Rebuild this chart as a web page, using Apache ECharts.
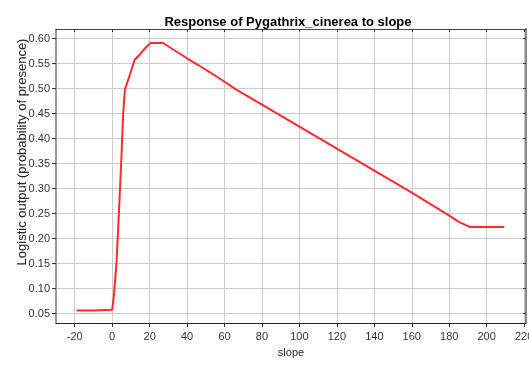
<!DOCTYPE html>
<html>
<head>
<meta charset="utf-8">
<script src="https://cdn.jsdelivr.net/npm/echarts@6/dist/echarts.min.js"></script>
<style>
html,body{margin:0;padding:0;background:#fff;}
#chart{width:529px;height:366px;}
</style>
</head>
<body>
<div id="chart"></div>
<script>
var titleText = "Response of Pygathrix_cinerea to slope";
var xName = "slope";
var yName = "Logistic output (probability of presence)";
var xTicks = [-20, 0, 20, 40, 60, 80, 100, 120, 140, 160, 180, 200, 220];
var yTicks = [0.05, 0.10, 0.15, 0.20, 0.25, 0.30, 0.35, 0.40, 0.45, 0.50, 0.55, 0.60];
var slopeX = [-19, -10, 0, 0.9, 2.3, 3.6, 4.8, 5.9, 6.8, 9.5, 12.1, 14.5, 16.5, 18.5, 20.5, 27.2, 33, 39.7, 46, 52, 59, 66.3, 80, 100, 120, 140, 160, 180, 185.4, 190.8, 200, 209.4];
var responseY = [0.0566, 0.0566, 0.058, 0.085, 0.151, 0.251, 0.351, 0.451, 0.498, 0.528, 0.558, 0.567, 0.576, 0.584, 0.591, 0.591, 0.577, 0.561, 0.547, 0.533, 0.516, 0.498, 0.468, 0.424, 0.380, 0.336, 0.292, 0.246, 0.233, 0.2234, 0.2234, 0.2234];

var pts = slopeX.map(function (x, i) { return [x, responseY[i]]; });
var font = "'Liberation Sans', Arial, sans-serif";
var chart = echarts.init(document.getElementById('chart'), null, {renderer: 'canvas'});
chart.setOption({
  animation: false,
  backgroundColor: '#ffffff',
  title: {
    text: titleText, left: 283, top: 11, textAlign: 'center',
    textStyle: {fontFamily: font, fontSize: 13, fontWeight: 'bold', color: '#000'}
  },
  grid: {left: 56, top: 29, right: 3, bottom: 43, show: false, outerBoundsMode: 'none', containLabel: false},
  xAxis: [{
    type: 'value', min: -30, max: 221, position: 'bottom',
    name: xName, nameLocation: 'middle', nameGap: 24,
    nameTextStyle: {fontFamily: font, fontSize: 11, color: '#222'},
    axisLine: {show: true, onZero: false, lineStyle: {color: '#222', width: 1}},
    axisTick: {show: true, length: 4, customValues: xTicks, lineStyle: {color: '#333'}},
    axisLabel: {customValues: xTicks, fontFamily: font, fontSize: 11, color: '#333', margin: 8, hideOverlap: false},
    splitLine: {show: true, lineStyle: {color: '#cccccc', width: 1}}
  }, {
    type: 'value', min: -30, max: 221, position: 'top',
    axisLine: {show: true, onZero: false, lineStyle: {color: '#444', width: 1}},
    axisTick: {show: true, inside: true, length: 3, customValues: xTicks, lineStyle: {color: '#333'}},
    axisLabel: {show: false},
    splitLine: {show: false}
  }],
  yAxis: [{
    type: 'value', min: 0.0314, max: 0.619, position: 'left',
    name: yName, nameLocation: 'middle', nameGap: 27, nameRotate: 90, nameMoveOverlap: false,
    nameTextStyle: {fontFamily: font, fontSize: 13, color: '#222', padding: [0, 0, 0, 48]},
    axisLine: {show: true, onZero: false, lineStyle: {color: '#777', width: 1.5}},
    axisTick: {show: true, length: 4, customValues: yTicks, lineStyle: {color: '#333'}},
    axisLabel: {customValues: yTicks, fontFamily: font, fontSize: 11, color: '#333', margin: 6,
      formatter: function (v) { return v.toFixed(2); }},
    splitLine: {show: true, lineStyle: {color: '#cccccc', width: 1}}
  }, {
    type: 'value', min: 0.0314, max: 0.619, position: 'right',
    axisLine: {show: true, onZero: false, lineStyle: {color: '#888', width: 2}},
    axisTick: {show: true, inside: true, length: 3, customValues: yTicks, lineStyle: {color: '#333'}},
    axisLabel: {show: false},
    splitLine: {show: false}
  }],
  series: [{
    type: 'line', xAxisIndex: 0, yAxisIndex: 0,
    data: pts, showSymbol: false, smooth: false,
    lineStyle: {color: '#ff2a2a', width: 2}
  }]
});
</script>
</body>
</html>
